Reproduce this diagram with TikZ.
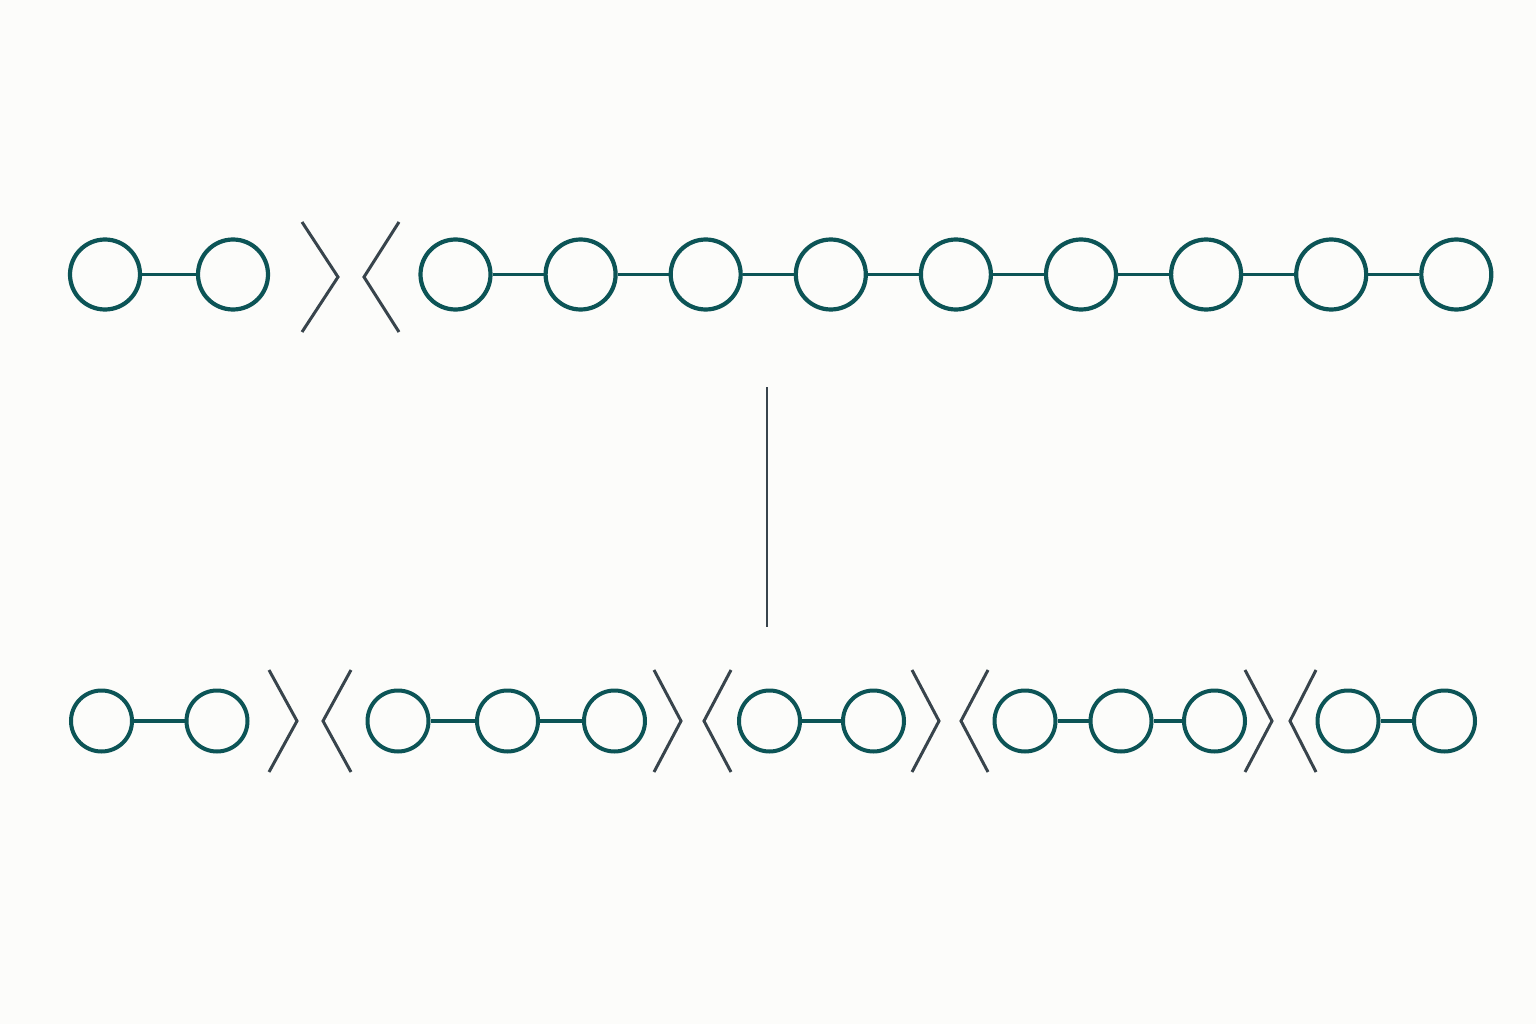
\documentclass[tikz,border=0pt]{standalone}
\definecolor{bgc}{RGB}{252,252,250}
\definecolor{teal}{RGB}{12,84,86}
\definecolor{slate}{RGB}{56,68,76}
\begin{document}
\begin{tikzpicture}[x=1pt,y=-1pt,
  bigc/.style={circle,draw=teal,line width=4.2pt,minimum size=70pt,inner sep=0pt},
  smallc/.style={circle,draw=teal,line width=4pt,minimum size=61pt,inner sep=0pt},
  link/.style={draw=teal,line width=3.3pt},
  brk/.style={draw=slate,line width=3pt},
  divider/.style={draw=slate,line width=2pt}]
\fill[bgc] (0,0) rectangle (1536,1024);
\useasboundingbox (0,0) rectangle (1536,1024);
% top row
\node[bigc] (t1) at (105,274.5) {};
\node[bigc] (t2) at (233,274.5) {};
\foreach \i in {0,...,8}{
  \node[bigc] (u\i) at (455.5+125.1*\i,274.5) {};
}
\draw[link] (t1) -- (t2);
\foreach \i [evaluate=\i as \j using int(\i+1)] in {0,...,7}{
  \draw[link] (u\i) -- (u\j);
}
\draw[brk] (302,222) -- (338,277) -- (302,332);
\draw[brk] (399,222) -- (364,277) -- (399,332);
% divider
\coordinate (d1) at (767,387);
\coordinate (d2) at (767,627);
\draw[divider] (d1) -- (d2);
% bottom row
\node[smallc] (b1) at (101.5,721) {};
\node[smallc] (b2) at (217,721) {};
\node[smallc] (b3) at (398,721) {};
\node[smallc] (b4) at (507.5,721) {};
\node[smallc] (b5) at (614.5,721) {};
\node[smallc] (b6) at (769.5,721) {};
\node[smallc] (b7) at (873.5,721) {};
\node[smallc] (b8) at (1025,721) {};
\node[smallc] (b9) at (1121,721) {};
\node[smallc] (b10) at (1214.5,721) {};
\node[smallc] (b11) at (1348,721) {};
\node[smallc] (b12) at (1444.5,721) {};
\draw[link] (b1) -- (b2);
\draw[link] (b3) -- (b4);
\draw[link] (b4) -- (b5);
\draw[link] (b6) -- (b7);
\draw[link] (b8) -- (b9);
\draw[link] (b9) -- (b10);
\draw[link] (b11) -- (b12);
\draw[brk] (269,670) -- (297,721) -- (269,772);
\draw[brk] (351,670) -- (323,721) -- (351,772);
\draw[brk] (654,670) -- (681,721) -- (654,772);
\draw[brk] (731,670) -- (704,721) -- (731,772);
\draw[brk] (912,670) -- (939,721) -- (912,772);
\draw[brk] (988,670) -- (961,721) -- (988,772);
\draw[brk] (1245,670) -- (1272,721) -- (1245,772);
\draw[brk] (1316,670) -- (1290,721) -- (1316,772);
\end{tikzpicture}
\end{document}
